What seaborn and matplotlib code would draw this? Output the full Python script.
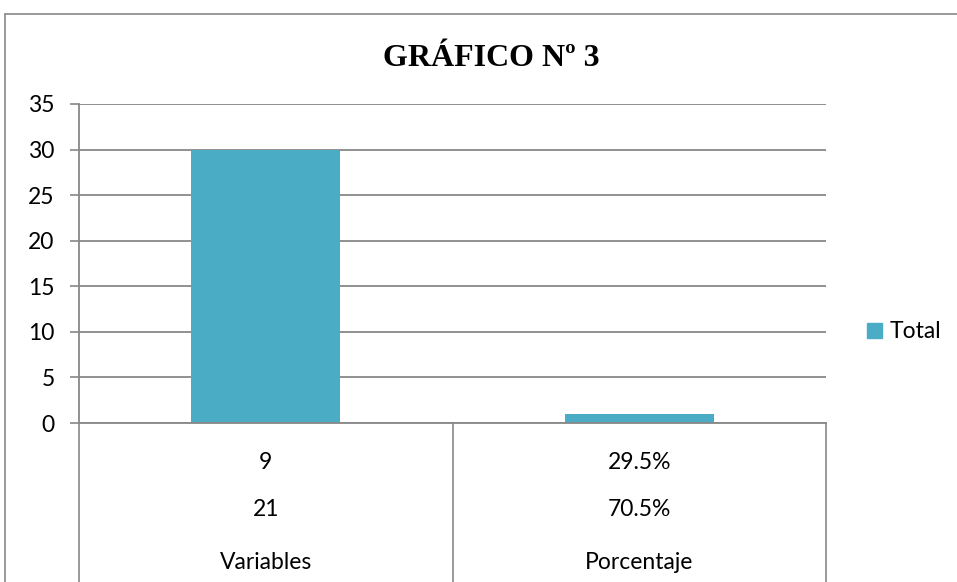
import matplotlib
matplotlib.use("Agg")
import matplotlib.pyplot as plt
import matplotlib.patches as mpatches
from matplotlib.lines import Line2D
import seaborn as sns

categories = ["Variables", "Porcentaje"]
totals = [30, 1]
row_labels = {
    "Variables": ["9", "21"],
    "Porcentaje": ["29.5%", "70.5%"],
}
y_ticks = [0, 5, 10, 15, 20, 25, 30, 35]
title = "GRÁFICO Nº 3"
legend_label = "Total"

BAR = "#4BACC6"
GRID = "#888888"
W, H = 957, 582
FS = 16.5

sns.set_theme(style="white")
plt.rcParams["font.family"] = ["Lato", "DejaVu Sans"]
plt.rcParams["text.color"] = "black"
plt.rcParams["ytick.color"] = "black"

fig = plt.figure(figsize=(W / 100, H / 100), dpi=100)
fig.patch.set_facecolor("white")

# outer chart border (left + top visible)
fig.add_artist(Line2D([5 / W, 5 / W], [0, 1 - 14 / H], color=GRID, lw=1.2))
fig.add_artist(Line2D([5 / W, 1], [1 - 14 / H, 1 - 14 / H], color=GRID, lw=1.2))

left, right, top, bottom = 79, 826, 104, 423
ax = fig.add_axes([left / W, 1 - bottom / H, (right - left) / W, (bottom - top) / H])

sns.barplot(x=categories, y=totals, color=BAR, saturation=1, width=0.4,
            linewidth=0, ax=ax)

ax.set_ylim(0, 35)
ax.set_xlim(-0.5, len(categories) - 0.5)
ax.set_yticks(y_ticks)
ax.set_yticklabels([str(t) for t in y_ticks], fontsize=FS)
ax.yaxis.grid(True, color=GRID, lw=1.3)
ax.set_axisbelow(True)
ax.tick_params(axis="y", length=6.5, width=1.2, color=GRID, pad=11, left=True,
               labelcolor="black")
ax.tick_params(axis="x", length=0, labelbottom=False)
for side in ["top", "right"]:
    ax.spines[side].set_visible(False)
for side in ["left", "bottom"]:
    ax.spines[side].set_color(GRID)
    ax.spines[side].set_linewidth(1.3)
ax.set_xlabel("")
ax.set_ylabel("")

# multi-level category axis (table under the plot)
trans = ax.get_xaxis_transform()
for xb in range(len(categories) + 1):
    ax.plot([xb - 0.5, xb - 0.5], [0, -0.6], transform=trans, color=GRID,
            lw=1.2, clip_on=False)
row_y = [-0.125, -0.27]
for i, cat in enumerate(categories):
    for yy, lab in zip(row_y, row_labels[cat]):
        ax.text(i, yy, lab, transform=trans, ha="center", va="center",
                fontsize=FS, color="black")
    ax.text(i, -0.436, cat, transform=trans, ha="center", va="center",
            fontsize=FS, color="black")

handle = mpatches.Patch(color=BAR, label=legend_label)
fig.legend(handles=[handle], loc="center left", bbox_to_anchor=(867 / W, 1 - 332 / H),
           frameon=False, fontsize=FS, handlelength=0.65, handleheight=0.65,
           handletextpad=0.35, borderpad=0, borderaxespad=0, labelcolor="black")

fig.text(491 / W, 1 - 58 / H, title, ha="center", va="center", fontsize=23,
         fontweight="bold", family="Liberation Serif", color="black")

fig.savefig("out.png", dpi=100)
